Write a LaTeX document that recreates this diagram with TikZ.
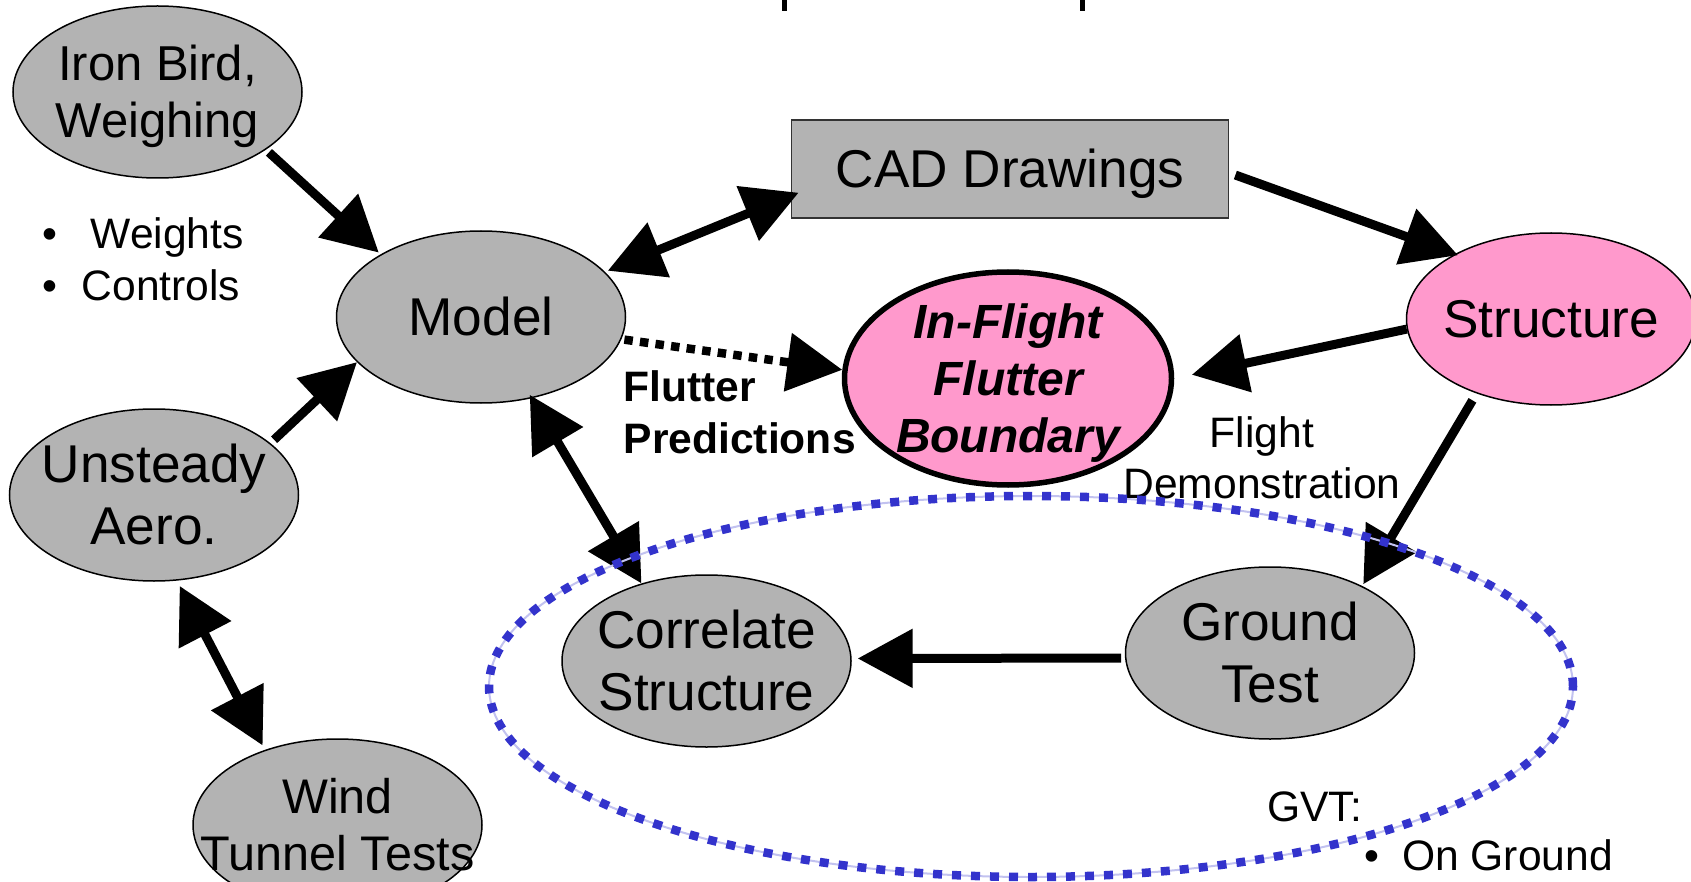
\documentclass[tikz,border=0pt]{standalone}
\usepackage{fontspec}
\setmainfont{Liberation Sans}
\usetikzlibrary{arrows.meta,shapes.geometric}

\definecolor{boxgray}{RGB}{179,179,179}
\definecolor{rose}{RGB}{255,153,204}
\definecolor{gvtblue}{RGB}{51,51,204}

% strut with the ascent/descent of the font, so text is centred like a slide text box
\newcommand{\lstrut}{\rule[-0.212em]{0pt}{1.117em}}

\begin{document}
\begin{tikzpicture}[x=1pt, y=-1pt,
  bubble/.style={ellipse, draw=black, line width=1.5pt, fill=boxgray,
    minimum width=289pt, minimum height=172pt,
    inner xsep=-40pt, inner ysep=-20pt, align=center,
    font=\fontsize{53.2}{62}\selectfont},
  pinkbubble/.style={bubble, fill=rose},
  headtip/.tip={Triangle[length=55pt,width=57pt]},
  flowarrow/.style={line width=9pt, -headtip},
  dualarrow/.style={line width=9pt, headtip-headtip},
  dotarrow/.style={line width=8.5pt, dash pattern=on 8.5pt off 7.2pt, -headtip},
  note/.style={inner sep=0pt, font=\fontsize{42.6}{51}\selectfont},
]
\fill[white] (0,0) rectangle (1691,882);
\useasboundingbox (0,0) rectangle (1691,882);

% descenders of the heading above the page edge
\fill (781.5,0) rectangle (786.5,11);
\fill (1079.5,0) rectangle (1084.5,11);

% nodes
\node[bubble, font=\fontsize{49}{57}\selectfont] (iron) at (157.5,92) {\lstrut Iron Bird,\\Weighing\lstrut};
\node[bubble] (model) at (481,317) {\lstrut Model};
\node[bubble] (unsteady) at (154,495) {\lstrut Unsteady\\Aero.\lstrut};
\node[bubble, font=\fontsize{48.6}{57}\selectfont] (wind) at (337.5,825) {\lstrut Wind\\Tunnel Tests\lstrut};
\node[bubble] (corr) at (706.5,661) {\lstrut Correlate\\Structure\lstrut};
\node[bubble] (ground) at (1270,653) {\lstrut Ground\\Test\lstrut};
\node[pinkbubble] (struct) at (1551,319) {\lstrut Structure};
\node[ellipse, draw=black, line width=5.5pt, fill=rose,
      minimum width=327pt, minimum height=213pt, inner xsep=0pt, inner ysep=-20pt,
      align=center, font=\bfseries\itshape\fontsize{48}{57}\selectfont]
      (flight) at (1008,378.5) {\lstrut In-Flight\\Flutter\\Boundary\lstrut};
\node[rectangle, draw=black!80, line width=1.5pt, fill=boxgray,
      minimum width=437pt, minimum height=98pt, inner sep=0pt,
      font=\fontsize{53.2}{62}\selectfont] (cad) at (1010,169) {\lstrut CAD Drawings};

% labels
\node[note, font=\bfseries\fontsize{42.6}{52}\selectfont, anchor=north west, align=left]
      (pred) at (623.5,362.5) {\lstrut Flutter\\Predictions};
\node[note, anchor=north, align=center] (demo) at (1262,409) {\lstrut Flight\\Demonstration};
\node[note, anchor=base west] (wts) at (42,249) {\textbullet\hspace{33.5pt}Weights};
\node[note, anchor=base west] (ctl) at (42,301) {\textbullet\hspace{24.5pt}Controls};
\node[note, anchor=base west] (gvtlbl) at (1267,821) {GVT:};
\node[note, anchor=base west] (ongnd) at (1364.5,870) {\textbullet\hspace{22.5pt}On Ground};

% connectors
\draw[flowarrow, shorten <=4pt, shorten >=2.5pt] (iron.-28) -- (model.148.5);
\draw[flowarrow, shorten <=5pt] (unsteady.24) -- (model.-160.6);
\draw[dualarrow, shorten <=3pt, shorten >=-8.5pt] (model.20.6) -- (cad.-173.75);
\draw[flowarrow, shorten <=6.5pt, shorten >=-3.5pt] (cad.-1) -- (struct.146.2);
\draw[flowarrow, shorten >=18pt] (struct.184) -- (flight.0);
\draw[dotarrow, shorten <=3pt] (model.-9.6) -- (flight.177);
\draw[dualarrow, shorten <=-4pt] (model.-58.6) -- (corr.130.9);
\draw[flowarrow, shorten <=8pt, shorten >=2pt] (struct.-135.7) -- (ground.36.1);
\draw[flowarrow, shorten <=4pt, shorten >=6pt] (ground.-178.5) -- (corr.1.5);
\draw[dualarrow, shorten <=6pt, shorten >=5pt] (unsteady.-75.4) -- (wind.134.8);

% ground vibration test region: faint outline under square blue dashes
\node[ellipse, draw=gvtblue, line width=8.5pt, dash pattern=on 9pt off 10pt,
      preaction={draw=gvtblue!30, solid, line width=2pt},
      minimum width=1084pt, minimum height=381pt, inner sep=0pt] (gvt) at (1031,686.5) {};
\end{tikzpicture}
\end{document}
